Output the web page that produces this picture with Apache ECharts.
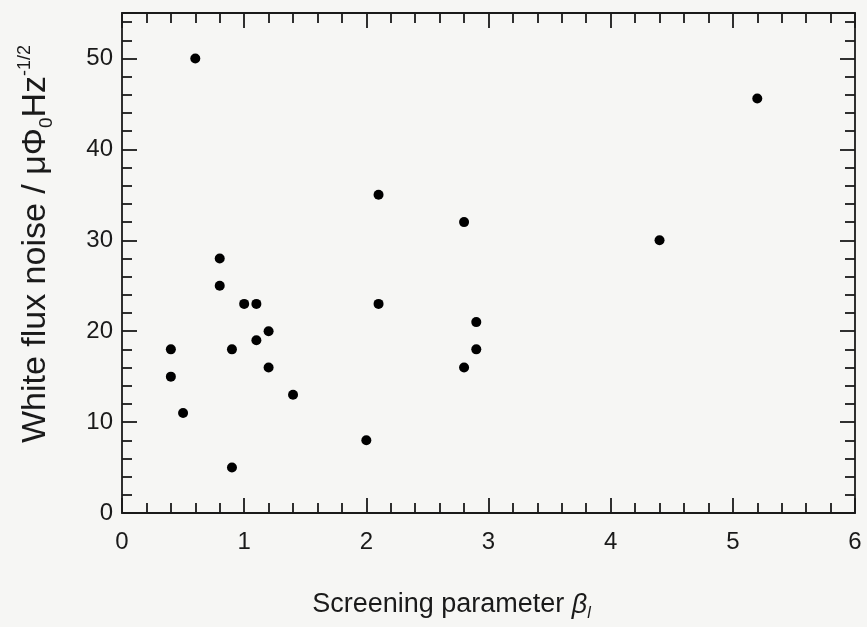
<!DOCTYPE html>
<html>
<head>
<meta charset="utf-8">
<script src="https://cdn.jsdelivr.net/npm/echarts@6/dist/echarts.min.js"></script>
<style>
  html, body { margin: 0; padding: 0; background: #f6f6f4; }
  #chart { width: 867px; height: 627px; }
</style>
</head>
<body>
<div id="chart"></div>
<script>
// Screening parameter beta_L of each device
const betaL = [0.6, 0.8, 0.8, 1.0, 1.1, 1.2, 1.1, 0.9, 0.4, 0.4, 0.5, 1.2, 1.4, 0.9,
               2.1, 2.1, 2.0, 2.8, 2.9, 2.9, 2.8, 4.4, 5.2];
// White flux noise in µΦ0/√Hz
const noise = [50, 28, 25, 23, 23, 20, 19, 18, 18, 15, 11, 16, 13, 5,
               35, 23, 8, 32, 21, 18, 16, 30, 45.6];

const xTicks = [0, 1, 2, 3, 4, 5, 6];
const yTicks = [0, 10, 20, 30, 40, 50];
const yMax = 55;

const points = betaL.map((b, i) => [b, noise[i]]);

const INK = '#1a1a1a';
const FONT = 'Liberation Sans, Arial, Helvetica, sans-serif';

const lineStyle = { color: INK, width: 1.8 };
const majorTick = { show: true, inside: true, length: 15, lineStyle: lineStyle };

const chart = echarts.init(document.getElementById('chart'), null, { renderer: 'canvas' });

// x axes: bottom carries labels, top only mirrors the ticks
function xAxis(position, withLabels) {
  return {
    type: 'value', position: position,
    min: xTicks[0], max: xTicks[xTicks.length - 1], interval: 1,
    axisLine: { show: true, onZero: false, lineStyle: lineStyle },
    axisTick: majorTick,
    minorTick: { show: true, splitNumber: 5, length: 10, lineStyle: lineStyle },
    splitLine: { show: false },
    minorSplitLine: { show: false },
    axisLabel: withLabels
      ? { show: true, margin: 17, color: INK, fontSize: 24, fontFamily: FONT }
      : { show: false }
  };
}

// y axes: left carries labels, right only mirrors the ticks
function yAxis(position, withLabels) {
  return {
    type: 'value', position: position,
    min: yTicks[0], max: yMax, interval: 10,
    axisLine: { show: true, onZero: false, lineStyle: lineStyle },
    axisTick: majorTick,
    minorTick: { show: true, splitNumber: 5, length: 10, lineStyle: lineStyle },
    splitLine: { show: false },
    minorSplitLine: { show: false },
    axisLabel: withLabels
      ? {
          show: true, margin: 9, color: INK, fontSize: 24, fontFamily: FONT,
          formatter: v => (yTicks.indexOf(v) >= 0 ? String(v) : '')
        }
      : { show: false }
  };
}

const xBottom = xAxis('bottom', true);
xBottom.name = '{t|Screening parameter }{b|β}{s|l}';
xBottom.nameLocation = 'middle';
xBottom.nameGap = 75;
xBottom.nameTextStyle = {
  padding: [0, 74, 0, 0],
  rich: {
    t: { fontSize: 27, fontFamily: FONT, color: INK, lineHeight: 34 },
    b: { fontSize: 27, fontFamily: FONT, color: INK, fontStyle: 'italic', lineHeight: 34 },
    s: { fontSize: 16, fontFamily: FONT, color: INK, fontStyle: 'italic', lineHeight: 14, verticalAlign: 'bottom' }
  }
};

const yLeft = yAxis('left', true);
yLeft.name = '{t|White flux noise / μΦ}{s|0}{t|Hz}{p|-1/2}';
yLeft.nameLocation = 'middle';
yLeft.nameGap = 66;
yLeft.nameRotate = 90;
yLeft.nameTextStyle = {
  padding: [0, 0, 0, 38],
  rich: {
    t: { fontSize: 34, fontFamily: FONT, color: INK, lineHeight: 40 },
    s: { fontSize: 19, fontFamily: FONT, color: INK, lineHeight: 16, verticalAlign: 'bottom' },
    p: { fontSize: 18, fontFamily: FONT, color: INK, lineHeight: 14, verticalAlign: 'top' }
  }
};

chart.setOption({
  backgroundColor: '#f6f6f4',
  animation: false,
  grid: { left: 122, right: 12, top: 13, bottom: 114, containLabel: false },
  xAxis: [xBottom, xAxis('top', false)],
  yAxis: [yLeft, yAxis('right', false)],
  series: [
    {
      type: 'scatter',
      xAxisIndex: 0,
      yAxisIndex: 0,
      data: points,
      symbol: 'circle',
      symbolSize: 10,
      itemStyle: { color: '#000000', opacity: 1 }
    }
  ]
});
</script>
</body>
</html>
